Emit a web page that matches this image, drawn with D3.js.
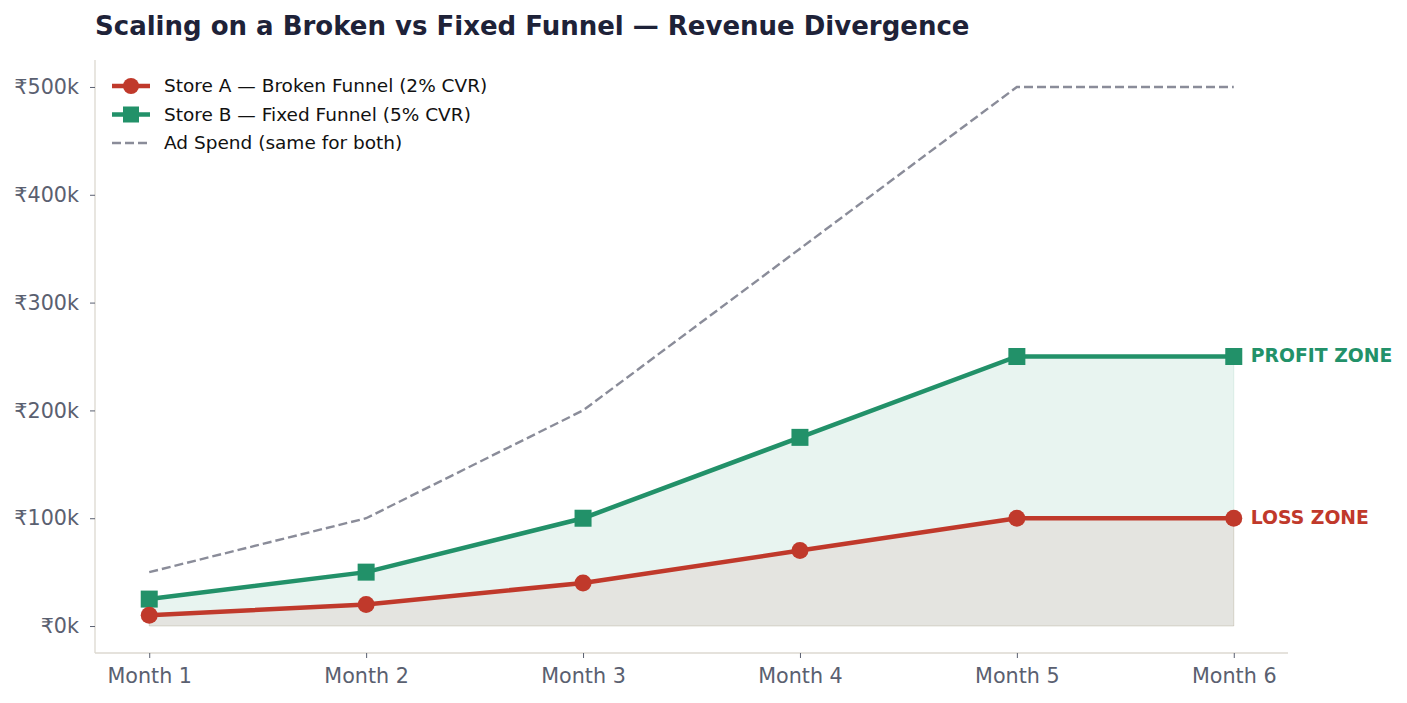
<!DOCTYPE html>
<meta charset="utf-8">
<script src="https://cdn.jsdelivr.net/npm/d3@7"></script>
<style>
  body { margin: 0; background: #fff; }
  svg text { font-family: "DejaVu Sans", sans-serif; }
</style>
<body>
<svg id="chart" width="1407" height="703"></svg>
</body>
<script>

    var months = ["Month 1", "Month 2", "Month 3", "Month 4", "Month 5", "Month 6"];
    var storeA = [10000, 20000, 40000, 70000, 100000, 100000];
    var storeB = [25000, 50000, 100000, 175000, 250000, 250000];
    var adSpend = [50000, 100000, 200000, 350000, 500000, 500000];
    var yTicks = [0, 100000, 200000, 300000, 400000, 500000];

    var red = "#c0392b",
        green = "#229169",
        grey = "#8a8c99";

    var mLeft = 95, mRight = 1288, mTop = 60, mBottom = 653;

    var svg = d3.select("#chart");

    var x = d3.scaleLinear()
        .domain([-0.25, months.length - 1 + 0.25])
        .range([mLeft, mRight]);

    var y = d3.scaleLinear()
        .domain([-25000, 525000])
        .range([mBottom, mTop]);

    svg.append("text")
        .attr("x", mLeft)
        .attr("y", 35)
        .attr("font-size", 26)
        .attr("font-weight", "bold")
        .attr("fill", "#1e2238")
        .text("Scaling on a Broken vs Fixed Funnel \u2014 Revenue Divergence");

    // fills
    var area = function(vals) {
      return d3.area()
          .x(function(d, i) { return x(i); })
          .y0(y(0))
          .y1(function(d) { return y(d); })(vals);
    };

    svg.append("path")
        .attr("d", area(storeB))
        .attr("fill", green)
        .attr("fill-opacity", 0.1)
        .attr("stroke", green)
        .attr("stroke-opacity", 0.1);

    svg.append("path")
        .attr("d", area(storeA))
        .attr("fill", red)
        .attr("fill-opacity", 0.08)
        .attr("stroke", red)
        .attr("stroke-opacity", 0.1);

    var line = d3.line()
        .x(function(d, i) { return x(i); })
        .y(function(d) { return y(d); });

    svg.append("path")
        .attr("d", line(adSpend))
        .attr("fill", "none")
        .attr("stroke", grey)
        .attr("stroke-width", 2.4)
        .attr("stroke-dasharray", "9,4");

    svg.append("path")
        .attr("d", line(storeB))
        .attr("fill", "none")
        .attr("stroke", green)
        .attr("stroke-width", 4.5);

    svg.selectAll(".sq")
        .data(storeB)
      .enter().append("rect")
        .attr("x", function(d, i) { return x(i) - 8.5; })
        .attr("y", function(d) { return y(d) - 8.5; })
        .attr("width", 17)
        .attr("height", 17)
        .attr("fill", green);

    svg.append("path")
        .attr("d", line(storeA))
        .attr("fill", "none")
        .attr("stroke", red)
        .attr("stroke-width", 4.5);

    svg.selectAll(".dot")
        .data(storeA)
      .enter().append("circle")
        .attr("cx", function(d, i) { return x(i); })
        .attr("cy", function(d) { return y(d); })
        .attr("r", 8.5)
        .attr("fill", red);

    // zone labels
    svg.append("text")
        .attr("x", x(5) + 17)
        .attr("y", y(storeB[5]))
        .attr("dy", "0.3em")
        .attr("font-size", 18.8)
        .attr("font-weight", "bold")
        .attr("fill", green)
        .text("PROFIT ZONE");

    svg.append("text")
        .attr("x", x(5) + 17)
        .attr("y", y(storeA[5]))
        .attr("dy", "0.3em")
        .attr("font-size", 18.8)
        .attr("font-weight", "bold")
        .attr("fill", red)
        .text("LOSS ZONE");

    // axes
    var xAxis = svg.append("g")
        .attr("transform", "translate(0," + mBottom + ")")
        .call(d3.axisBottom(x)
            .tickValues(d3.range(months.length))
            .tickFormat(function(i) { return months[i]; })
            .tickSize(5)
            .tickPadding(10));

    var yAxis = svg.append("g")
        .attr("transform", "translate(" + mLeft + ",0)")
        .call(d3.axisLeft(y)
            .tickValues(yTicks)
            .tickFormat(function(d) { return "\u20b9" + d / 1000 + "k"; })
            .tickSize(5)
            .tickPadding(11));

    [xAxis, yAxis].forEach(function(g) {
      g.select(".domain").attr("stroke", "#dcd8d0").attr("stroke-width", 1.3);
      g.selectAll(".tick line").attr("stroke", "#5a6070");
      g.selectAll(".tick text")
          .attr("fill", "#5a6070")
          .attr("font-size", 20.7)
          .style("font-family", "DejaVu Sans, sans-serif");
    });
    xAxis.select(".domain").attr("d", "M" + mLeft + ",0H" + mRight);
    yAxis.select(".domain").attr("d", "M0," + mTop + "V" + mBottom);

    // legend
    var legend = [
      {label: "Store A \u2014 Broken Funnel (2% CVR)", color: red, mark: "circle"},
      {label: "Store B \u2014 Fixed Funnel (5% CVR)", color: green, mark: "square"},
      {label: "Ad Spend (same for both)", color: grey, mark: "dash"}
    ];

    var lg = svg.selectAll(".leg")
        .data(legend)
      .enter().append("g")
        .attr("transform", function(d, i) { return "translate(112," + (86 + i * 28.5) + ")"; });

    lg.append("line")
        .attr("x1", 0).attr("x2", 38)
        .attr("stroke", function(d) { return d.color; })
        .attr("stroke-width", function(d) { return d.mark == "dash" ? 2.4 : 4.5; })
        .attr("stroke-dasharray", function(d) { return d.mark == "dash" ? "9,4" : null; });

    lg.filter(function(d) { return d.mark == "circle"; })
      .append("circle").attr("cx", 19).attr("r", 8).attr("fill", red);
    lg.filter(function(d) { return d.mark == "square"; })
      .append("rect").attr("x", 11).attr("y", -8).attr("width", 16).attr("height", 16).attr("fill", green);

    lg.append("text")
        .attr("x", 52)
        .attr("dy", "0.35em")
        .attr("font-size", 18.5)
        .attr("fill", "#111")
        .text(function(d) { return d.label; });

</script>
